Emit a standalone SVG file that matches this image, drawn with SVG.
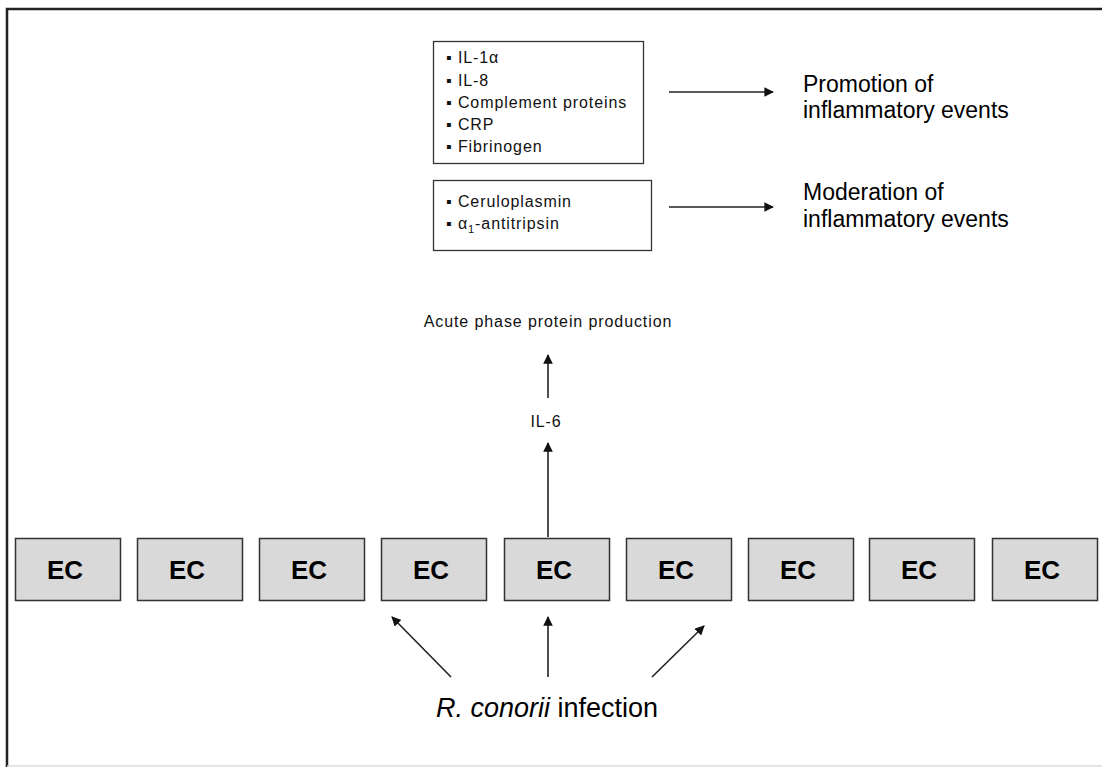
<svg xmlns="http://www.w3.org/2000/svg" width="1102" height="767" viewBox="0 0 1102 767">
<defs>
<style>
.frame{stroke:#222;stroke-width:2.5;fill:none}
.ec rect{fill:#d9d9d9;stroke:#333;stroke-width:1.5}
.ec text{font-family:"Liberation Sans",Arial,sans-serif;font-weight:bold;font-size:26px;fill:#000;text-anchor:middle}
.box{fill:#fff;stroke:#333;stroke-width:1.3}
.small{font-family:"Liberation Sans",Arial,sans-serif;font-size:16px;fill:#111;letter-spacing:0.9px}
.big{font-family:"Liberation Sans",Arial,sans-serif;font-size:23px;fill:#000}
.conn line{stroke:#222;stroke-width:1.6;marker-end:url(#ah)}
</style>
<marker id="ah" viewBox="0 0 10 10" refX="9" refY="5" markerWidth="6" markerHeight="6" markerUnits="strokeWidth" orient="auto">
<path d="M0,0 L10,5 L0,10 z" fill="#111"/>
</marker>
</defs>
<rect width="1102" height="767" fill="#fff"/>
<g id="frame">
<path class="frame" d="M7,767 V9 H1102"/>
<line x1="7" y1="766" x2="1102" y2="766" stroke="#ddd" stroke-width="1.5"/>
</g>

<g id="pro-box">
<rect class="box" x="433.5" y="41.5" width="210" height="122"/>
<text class="small" x="446" y="63">▪ IL-1α</text>
<text class="small" x="446" y="86">▪ IL-8</text>
<text class="small" x="446" y="108">▪ Complement proteins</text>
<text class="small" x="446" y="130">▪ CRP</text>
<text class="small" x="446" y="152">▪ Fibrinogen</text>
</g>
<g id="anti-box">
<rect class="box" x="433.5" y="180.5" width="218" height="70"/>
<text class="small" x="446" y="207">▪ Ceruloplasmin</text>
<text class="small" x="446" y="229">▪ α<tspan font-size="11" dy="4">1</tspan><tspan dy="-4">-antitripsin</tspan></text>
</g>
<g id="promotion">
<text class="big" x="803" y="92">Promotion of</text>
<text class="big" x="803" y="118">inflammatory events</text>
</g>
<g id="moderation">
<text class="big" x="803" y="200">Moderation of</text>
<text class="big" x="803" y="227">inflammatory events</text>
</g>
<g id="acute">
<text class="small" x="548" y="327" text-anchor="middle" letter-spacing="0.8">Acute phase protein production</text>
</g>
<g id="il6">
<text class="small" x="546" y="427" text-anchor="middle">IL-6</text>
</g>

<g class="ec" id="ec1"><rect x="15.5" y="538.5" width="105" height="62"/><text x="65" y="579">EC</text></g>
<g class="ec" id="ec2"><rect x="137.5" y="538.5" width="105" height="62"/><text x="187" y="579">EC</text></g>
<g class="ec" id="ec3"><rect x="259.5" y="538.5" width="105" height="62"/><text x="309" y="579">EC</text></g>
<g class="ec" id="ec4"><rect x="381.5" y="538.5" width="105" height="62"/><text x="431" y="579">EC</text></g>
<g class="ec" id="ec5"><rect x="504.5" y="538.5" width="105" height="62"/><text x="554" y="579">EC</text></g>
<g class="ec" id="ec6"><rect x="626.5" y="538.5" width="105" height="62"/><text x="676" y="579">EC</text></g>
<g class="ec" id="ec7"><rect x="748.5" y="538.5" width="105" height="62"/><text x="798" y="579">EC</text></g>
<g class="ec" id="ec8"><rect x="869.5" y="538.5" width="105" height="62"/><text x="919" y="579">EC</text></g>
<g class="ec" id="ec9"><rect x="992.5" y="538.5" width="105" height="62"/><text x="1042" y="579">EC</text></g>

<g id="infection">
<text font-family="'Liberation Sans',Arial,sans-serif" font-size="27" fill="#000" x="547" y="717" text-anchor="middle"><tspan font-style="italic">R. conorii</tspan> infection</text>
</g>

<g class="conn" id="connectors">
<line x1="669" y1="92" x2="773" y2="92"/>
<line x1="669" y1="207" x2="773" y2="207"/>
<line x1="548" y1="398" x2="548" y2="355"/>
<line x1="548" y1="537" x2="548" y2="443"/>
<line x1="451" y1="677" x2="392" y2="617"/>
<line x1="548" y1="677" x2="548" y2="617"/>
<line x1="652" y1="677" x2="704" y2="626"/>
</g>
</svg>
